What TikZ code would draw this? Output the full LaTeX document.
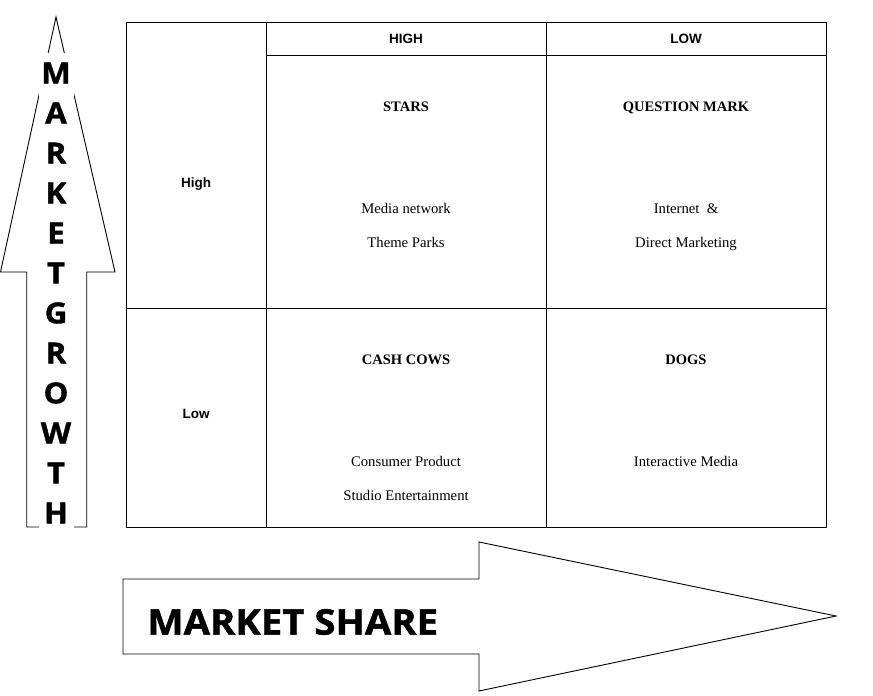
\documentclass[tikz,border=0pt]{standalone}
\usepackage{fontspec}
\setmainfont{Liberation Serif}
\newfontfamily\arialf{Liberation Sans}
\newfontfamily\opensf[FakeStretch=1.08,FakeBold=1.2]{Open Sans}
\begin{document}
\begin{tikzpicture}[x=1pt,y=-1pt,line width=0.9pt,
  hdr/.style={font=\arialf\bfseries\fontsize{13.5}{15}\selectfont, text height=10pt, text depth=3pt},
  ttl/.style={font=\bfseries\fontsize{14.5}{16}\selectfont, text height=10pt, text depth=3pt},
  itm/.style={font=\fontsize{14.7}{16}\selectfont, text height=10pt, text depth=3pt},
  vlet/.style={font=\opensf\bfseries\fontsize{29}{32}\selectfont, fill=white, inner sep=0pt, minimum width=35pt, minimum height=40pt},
  big/.style={font=\opensf\bfseries\fontsize{35.5}{40}\selectfont, inner sep=0pt, anchor=west}]
\useasboundingbox (0,0) rectangle (873,696);
% vertical arrow
\draw (56,17) -- (115,272) -- (86.7,272) -- (86.7,527) -- (26.7,527) -- (26.7,272) -- (0.5,272) -- cycle;
\foreach \l [count=\i from 0] in {M,A,R,K,E,T,G,R,O,W,T,H}
  \node[vlet] (v\i) at (56,73+40*\i) {\l};
% horizontal arrow
\draw (123,579) -- (479,579) -- (479,542) -- (836,616) -- (479,691) -- (479,654) -- (123,654) -- cycle;
\node[big] (ms) at (147,622) {MARKET SHARE};
% table
\draw (126,22) rectangle (826,527);
\draw (266,22) -- (266,527);
\draw (546,22) -- (546,527);
\draw (266,55) -- (826,55);
\draw (126,308) -- (826,308);
\node[hdr] (hh) at (406,39.5) {HIGH};
\node[hdr] (hl) at (686,39.5) {LOW};
\node[hdr] (rh) at (196,184) {High};
\node[hdr] (rl) at (196,415) {Low};
\node[ttl] (stars) at (406,108) {STARS};
\node[itm] (s1) at (406,210) {Media network};
\node[itm] (s2) at (406,244) {Theme Parks};
\node[ttl] (qm) at (686,108) {QUESTION MARK};
\node[itm] (q1) at (686,210) {Internet~~\&};
\node[itm] (q2) at (686,244) {Direct Marketing};
\node[ttl] (cc) at (406,361) {CASH COWS};
\node[itm] (c1) at (406,463) {Consumer Product};
\node[itm] (c2) at (406,497) {Studio Entertainment};
\node[ttl] (dg) at (686,361) {DOGS};
\node[itm] (d1) at (686,463) {Interactive Media};
\end{tikzpicture}
\end{document}
